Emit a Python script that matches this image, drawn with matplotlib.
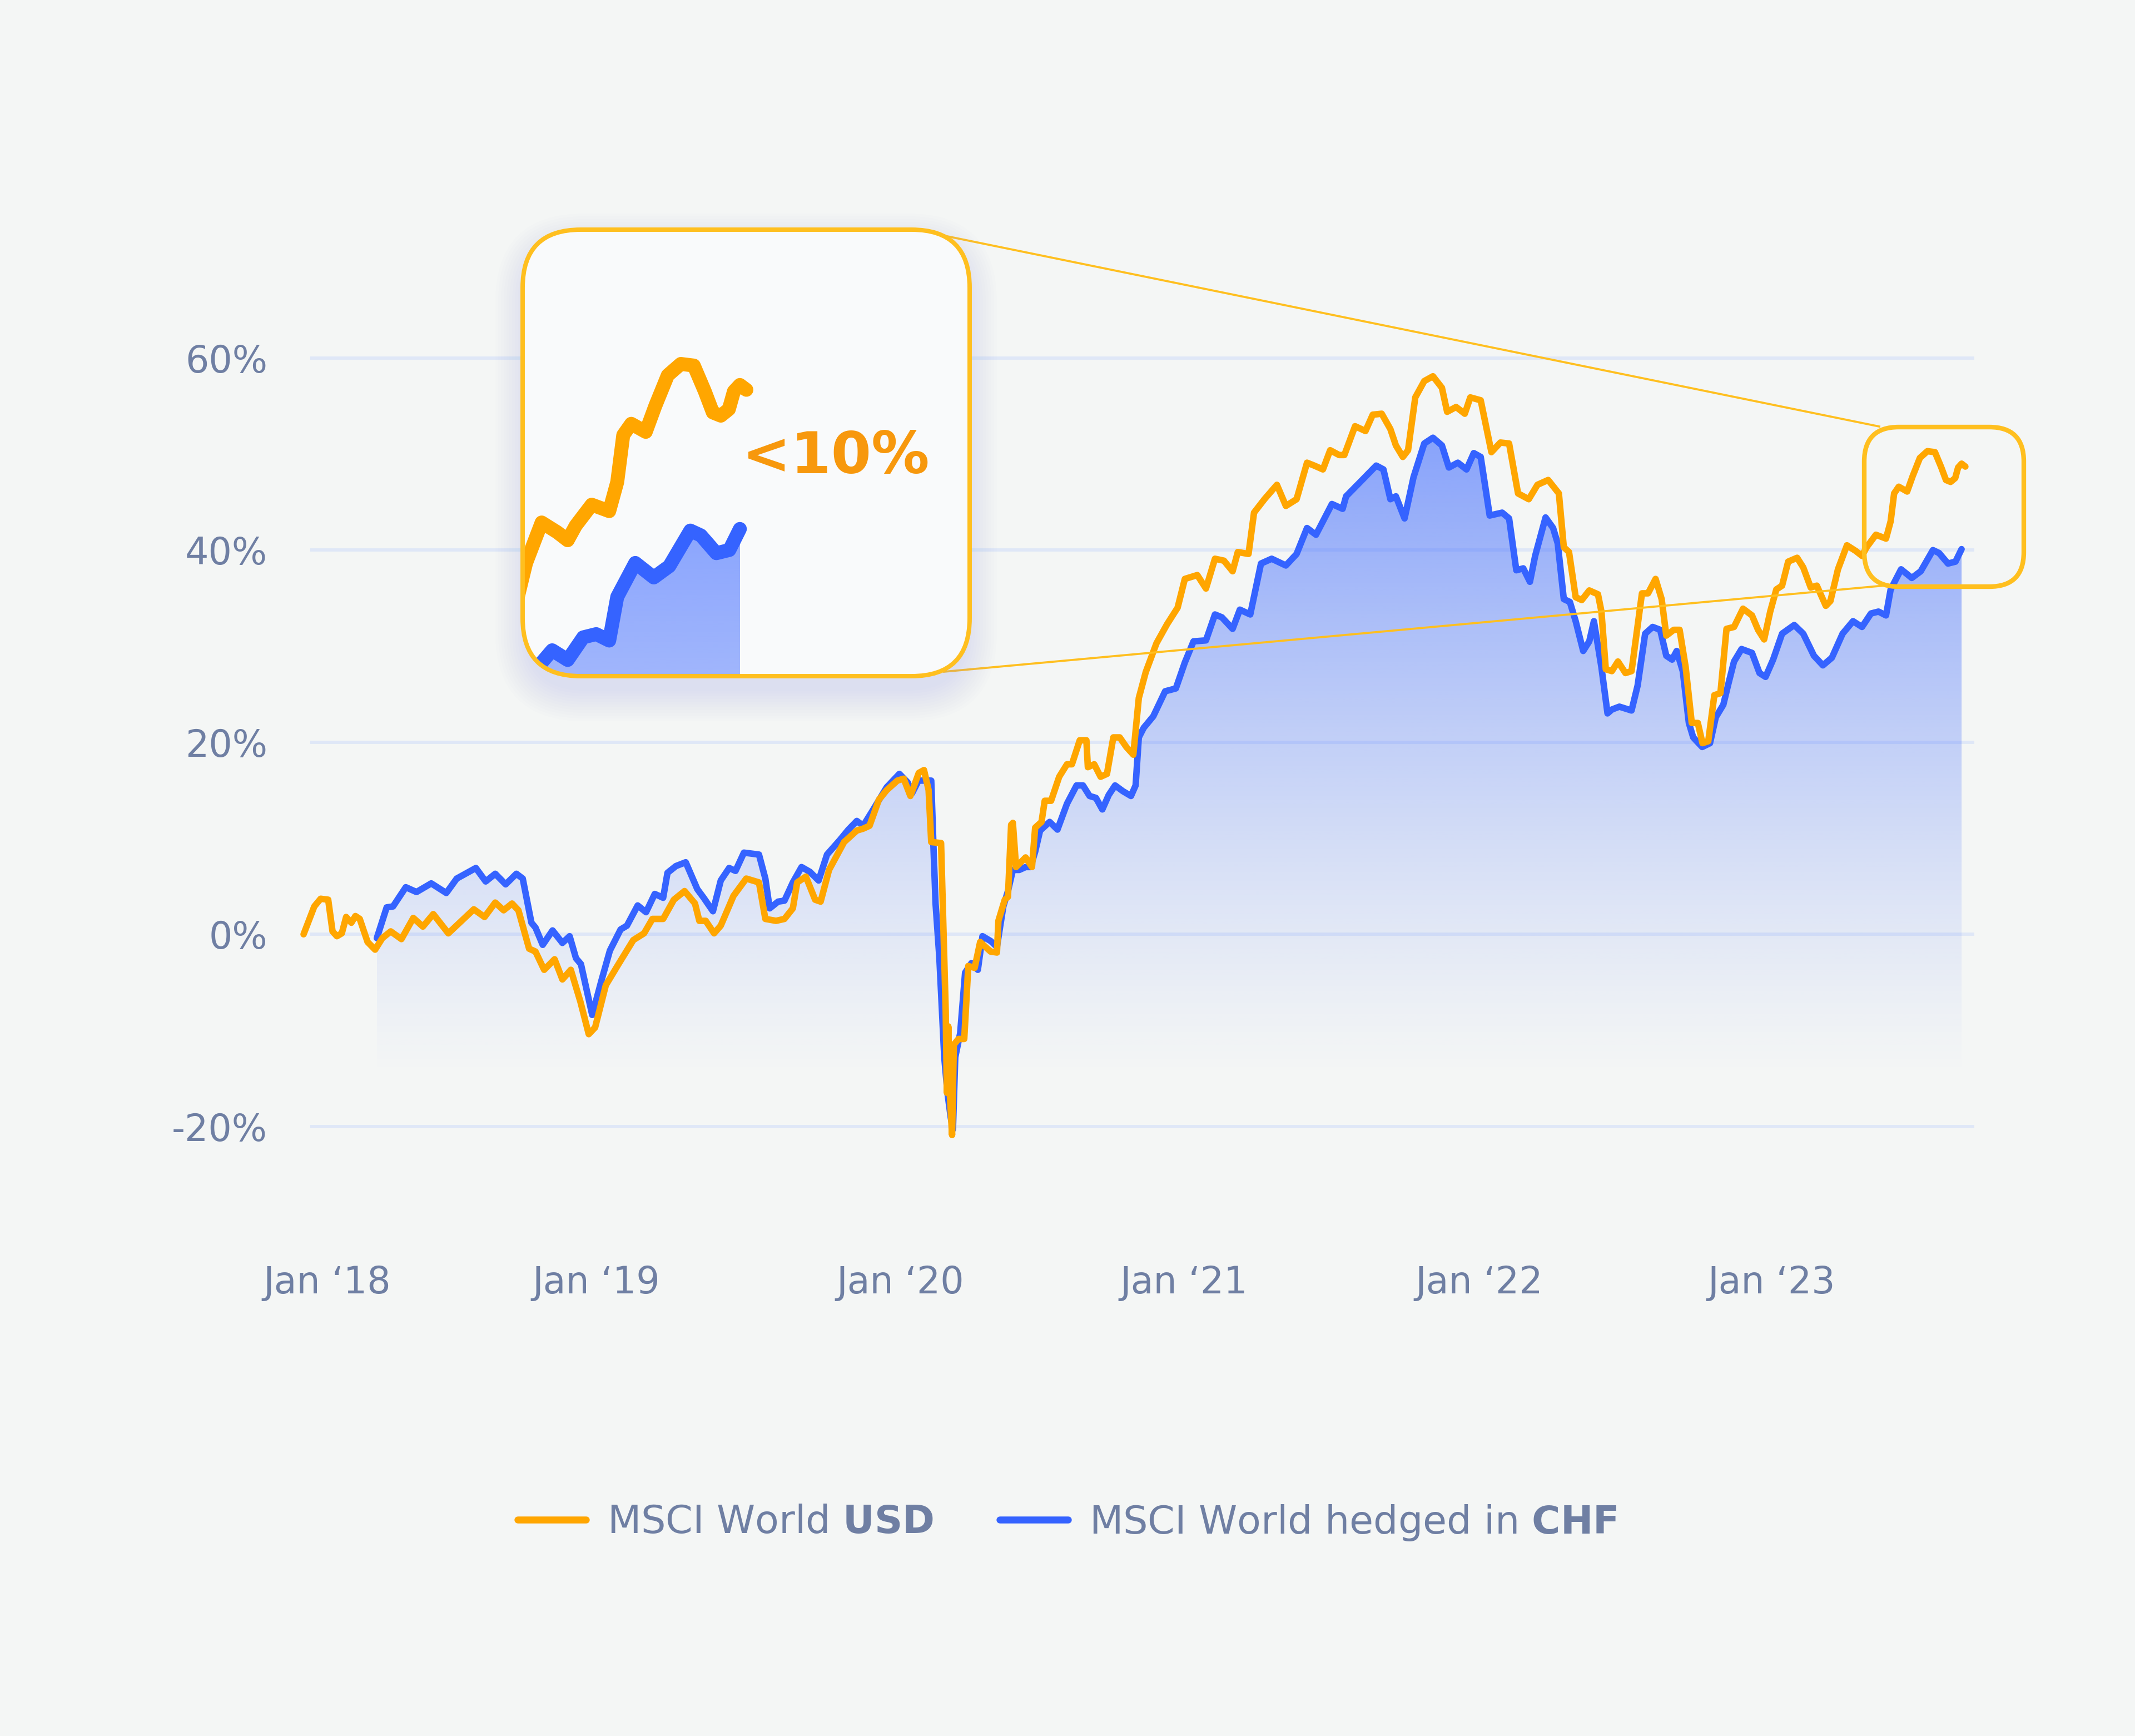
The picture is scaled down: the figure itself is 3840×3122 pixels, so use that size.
import numpy as np
import matplotlib.pyplot as plt
from matplotlib.patches import FancyBboxPatch
from matplotlib.lines import Line2D
from matplotlib.colors import to_rgb
from matplotlib.transforms import IdentityTransform

plt.rcParams['font.family'] = ['DejaVu Sans']
plt.rcParams['mathtext.fontset'] = 'dejavusans'

# --- data (time in fractional years, value in %) ---
usd_t = [2017.919, 2017.956, 2017.978, 2018.004, 2018.019, 2018.034, 2018.051, 2018.066, 2018.084, 2018.098,
         2018.113, 2018.140, 2018.166, 2018.191, 2018.220, 2018.257, 2018.298, 2018.331, 2018.367, 2018.419,
         2018.507, 2018.544, 2018.581, 2018.610, 2018.639, 2018.661, 2018.698, 2018.720, 2018.750, 2018.786,
         2018.813, 2018.842, 2018.875, 2018.904, 2018.926, 2018.963, 2019.007, 2019.058, 2019.095, 2019.124,
         2019.161, 2019.198, 2019.235, 2019.271, 2019.286, 2019.308, 2019.337, 2019.360, 2019.404, 2019.448,
         2019.492, 2019.514, 2019.551, 2019.580, 2019.609, 2019.624, 2019.654, 2019.686, 2019.705, 2019.734,
         2019.786, 2019.830, 2019.852, 2019.874, 2019.906, 2019.933, 2019.970, 2019.992, 2020.015, 2020.044,
         2020.062, 2020.078, 2020.087, 2020.121, 2020.132, 2020.137, 2020.141, 2020.146, 2020.151, 2020.159,
         2020.165, 2020.181, 2020.201, 2020.215, 2020.237, 2020.256, 2020.270, 2020.292, 2020.314, 2020.319,
         2020.341, 2020.352, 2020.363, 2020.369, 2020.380, 2020.413, 2020.435, 2020.446, 2020.468, 2020.479,
         2020.501, 2020.529, 2020.556, 2020.573, 2020.600, 2020.623, 2020.628, 2020.650, 2020.672, 2020.694,
         2020.716, 2020.738, 2020.761, 2020.785, 2020.804, 2020.828, 2020.865, 2020.902, 2020.938, 2020.963,
         2021.006, 2021.036, 2021.067, 2021.098, 2021.128, 2021.146, 2021.183, 2021.202, 2021.238, 2021.281,
         2021.312, 2021.349, 2021.385, 2021.410, 2021.440, 2021.465, 2021.496, 2021.514, 2021.551, 2021.587,
         2021.612, 2021.643, 2021.673, 2021.692, 2021.716, 2021.734, 2021.759, 2021.790, 2021.820, 2021.851,
         2021.869, 2021.900, 2021.930, 2021.949, 2021.985, 2022.022, 2022.053, 2022.083, 2022.114, 2022.151,
         2022.181, 2022.218, 2022.255, 2022.272, 2022.290, 2022.313, 2022.334, 2022.360, 2022.390, 2022.402,
         2022.417, 2022.438, 2022.459, 2022.485, 2022.506, 2022.542, 2022.563, 2022.589, 2022.610, 2022.626,
         2022.652, 2022.672, 2022.693, 2022.714, 2022.735, 2022.751, 2022.771, 2022.792, 2022.813, 2022.834,
         2022.860, 2022.891, 2022.922, 2022.943, 2022.964, 2022.985, 2023.006, 2023.026, 2023.047, 2023.078,
         2023.099, 2023.125, 2023.146, 2023.177, 2023.193, 2023.219, 2023.250, 2023.281, 2023.302, 2023.318,
         2023.350, 2023.385, 2023.401, 2023.413, 2023.429, 2023.458, 2023.477, 2023.502, 2023.528, 2023.554,
         2023.576, 2023.592, 2023.608, 2023.624, 2023.634, 2023.646, 2023.659]
usd_v = [0.0, 2.9, 3.7, 3.6, 0.3, -0.2, 0.1, 1.8, 1.2, 1.9,
         1.6, -0.8, -1.6, -0.4, 0.3, -0.5, 1.7, 0.8, 2.1, 0.1,
         2.6, 1.8, 3.3, 2.5, 3.2, 2.5, -1.5, -1.8, -3.7, -2.6,
         -4.7, -3.7, -7.0, -10.4, -9.7, -5.3, -3.1, -0.6, 0.1, 1.6,
         1.6, 3.6, 4.5, 3.2, 1.4, 1.4, 0.1, 0.9, 4.0, 5.8,
         5.4, 1.6, 1.4, 1.6, 2.7, 5.4, 6.0, 3.6, 3.4, 6.7,
         9.6, 10.8, 11.0, 11.3, 14.0, 15.0, 16.0, 16.2, 14.4, 16.8,
         17.1, 15.0, 9.6, 9.5, -2.4, -8.0, -16.5, -9.6, -16.5, -20.9,
         -11.5, -10.9, -10.9, -3.3, -3.5, -0.8, -1.2, -1.8, -1.9, 1.4,
         3.6, 3.9, 11.4, 11.6, 7.0, 8.0, 7.0, 11.1, 11.7, 13.9,
         13.9, 16.4, 17.7, 17.7, 20.2, 20.2, 17.4, 17.7, 16.4, 16.7,
         20.5, 20.5, 19.5, 18.7, 24.6, 27.3, 30.3, 32.3, 34.0, 37.0,
         37.4, 36.0, 39.1, 38.9, 37.8, 39.8, 39.6, 43.9, 45.3, 46.8,
         44.6, 45.3, 49.1, 48.8, 48.4, 50.4, 49.9, 49.9, 52.9, 52.4,
         54.1, 54.2, 52.6, 50.9, 49.7, 50.4, 55.9, 57.6, 58.1, 56.9,
         54.4, 54.9, 54.2, 55.9, 55.6, 50.2, 51.2, 51.1, 45.9, 45.3,
         46.8, 47.3, 45.9, 40.3, 39.8, 35.1, 34.8, 35.8, 35.4, 33.6,
         27.6, 27.4, 28.4, 27.2, 27.4, 35.5, 35.5, 37.0, 34.9, 31.1,
         31.7, 31.7, 27.8, 22.0, 22.0, 19.9, 20.1, 24.9, 25.1, 31.8,
         32.0, 33.9, 33.2, 31.7, 30.7, 33.6, 35.9, 36.3, 38.8, 39.2,
         38.2, 36.1, 36.3, 34.2, 34.7, 38.0, 40.5, 39.9, 39.4, 40.3,
         41.6, 41.2, 43.0, 45.9, 46.6, 46.1, 47.7, 49.6, 50.3, 50.2,
         48.6, 47.3, 47.1, 47.5, 48.6, 49.0, 48.7]

chf_t = [2018.172, 2018.206, 2018.228, 2018.272, 2018.309, 2018.360, 2018.412, 2018.448, 2018.514, 2018.548,
         2018.581, 2018.617, 2018.654, 2018.676, 2018.706, 2018.720, 2018.745, 2018.779, 2018.813, 2018.838,
         2018.860, 2018.877, 2018.916, 2018.948, 2018.977, 2019.014, 2019.036, 2019.073, 2019.102, 2019.132,
         2019.161, 2019.176, 2019.205, 2019.239, 2019.279, 2019.301, 2019.333, 2019.360, 2019.389, 2019.411,
         2019.440, 2019.492, 2019.514, 2019.529, 2019.558, 2019.580, 2019.609, 2019.639, 2019.668, 2019.698,
         2019.727, 2019.771, 2019.801, 2019.830, 2019.852, 2019.889, 2019.933, 2019.977, 2020.006, 2020.021,
         2020.043, 2020.087, 2020.095, 2020.102, 2020.115, 2020.132, 2020.143, 2020.154, 2020.162, 2020.170,
         2020.187, 2020.204, 2020.226, 2020.248, 2020.264, 2020.292, 2020.314, 2020.336, 2020.352, 2020.369,
         2020.391, 2020.413, 2020.430, 2020.446, 2020.463, 2020.496, 2020.523, 2020.556, 2020.589, 2020.611,
         2020.634, 2020.656, 2020.678, 2020.700, 2020.722, 2020.749, 2020.777, 2020.793, 2020.804, 2020.821,
         2020.854, 2020.895, 2020.932, 2020.963, 2020.993, 2021.036, 2021.067, 2021.091, 2021.128, 2021.153,
         2021.189, 2021.226, 2021.263, 2021.312, 2021.349, 2021.385, 2021.416, 2021.471, 2021.508, 2021.520,
         2021.569, 2021.624, 2021.649, 2021.673, 2021.692, 2021.722, 2021.753, 2021.790, 2021.820, 2021.851,
         2021.875, 2021.906, 2021.936, 2021.961, 2021.985, 2022.016, 2022.059, 2022.083, 2022.108, 2022.132,
         2022.155, 2022.173, 2022.209, 2022.235, 2022.251, 2022.272, 2022.293, 2022.313, 2022.339, 2022.360,
         2022.376, 2022.402, 2022.423, 2022.438, 2022.464, 2022.485, 2022.506, 2022.527, 2022.553, 2022.579,
         2022.605, 2022.626, 2022.646, 2022.662, 2022.683, 2022.704, 2022.719, 2022.750, 2022.777, 2022.797,
         2022.823, 2022.839, 2022.860, 2022.886, 2022.922, 2022.948, 2022.969, 2022.995, 2023.026, 2023.068,
         2023.099, 2023.136, 2023.167, 2023.198, 2023.235, 2023.271, 2023.302, 2023.333, 2023.359, 2023.385,
         2023.401, 2023.437, 2023.474, 2023.505, 2023.547, 2023.568, 2023.599, 2023.625, 2023.646]
chf_v = [-0.4, 2.8, 2.9, 4.9, 4.4, 5.3, 4.3, 5.8, 6.9, 5.5,
         6.3, 5.2, 6.3, 5.8, 1.2, 0.7, -1.1, 0.4, -0.9, -0.2,
         -2.5, -3.1, -8.4, -4.8, -1.7, 0.5, 0.9, 3.0, 2.3, 4.2,
         3.8, 6.4, 7.1, 7.5, 4.7, 3.8, 2.4, 5.6, 6.9, 6.6,
         8.5, 8.3, 5.8, 2.7, 3.4, 3.5, 5.4, 7.0, 6.5, 5.6,
         8.3, 9.8, 10.9, 11.8, 11.3, 13.1, 15.3, 16.7, 15.8, 14.7,
         16.0, 16.0, 8.9, 3.2, -2.4, -12.8, -16.5, -19.0, -20.3, -12.8,
         -10.3, -4.0, -3.0, -3.7, -0.2, -0.7, -1.3, 2.9, 4.5, 6.7,
         6.7, 7.0, 7.0, 8.6, 10.8, 11.7, 10.9, 13.6, 15.5, 15.5,
         14.4, 14.2, 13.0, 14.5, 15.5, 14.9, 14.4, 15.5, 20.5, 21.5,
         22.7, 25.3, 25.6, 28.3, 30.5, 30.6, 33.3, 33.0, 31.8, 33.8,
         33.3, 38.6, 39.1, 38.4, 39.6, 42.3, 41.6, 44.8, 44.3, 45.6,
         47.1, 48.8, 48.4, 45.3, 45.6, 43.3, 47.6, 51.1, 51.7, 50.9,
         48.6, 49.1, 48.4, 50.1, 49.7, 43.6, 43.9, 43.3, 37.9, 38.1,
         36.7, 39.4, 43.4, 42.3, 40.7, 34.9, 34.6, 32.6, 29.5, 30.5,
         32.6, 27.8, 23.0, 23.4, 23.7, 23.5, 23.3, 25.9, 31.3, 32.0,
         31.7, 29.0, 28.6, 29.5, 27.4, 22.0, 20.5, 19.5, 19.9, 22.6,
         23.9, 25.9, 28.4, 29.7, 29.3, 27.2, 26.8, 28.6, 31.3, 32.2,
         31.3, 29.0, 28.0, 28.8, 31.3, 32.6, 32.0, 33.4, 33.6, 33.2,
         35.9, 38.0, 37.1, 37.8, 40.0, 39.7, 38.6, 38.8, 40.1]

x_ticks = [2018.0, 2018.93, 2019.98, 2020.96, 2021.98, 2022.99]
x_labels = ['Jan \u201818', 'Jan \u201819', 'Jan \u201820', 'Jan \u201821', 'Jan \u201822', 'Jan \u201823']
y_ticks = [-20, 0, 20, 40, 60]
y_labels = ['-20%', '0%', '20%', '40%', '60%']
legend_labels = ['MSCI World $\\mathbf{USD}$', 'MSCI World hedged in $\\mathbf{CHF}$']
callout_text = '<10%'

# --- style ---
BG = '#f4f6f5'
INSET_BG = '#f9fafb'
ORANGE = '#ffa600'
BLUE = '#3563ff'
GOLD = '#ffbf1f'
GRID = '#dfe7f7'
TXT = '#6f7fa3'

W, H, DPI = 3840, 3122, 300
PX = IdentityTransform()

fig = plt.figure(figsize=(W / DPI, H / DPI), dpi=DPI, facecolor=BG)


def rect(x0, y0, x1, y1):
    # pixel box (origin top-left) -> figure fraction
    return [x0 / W, 1 - y1 / H, (x1 - x0) / W, (y1 - y0) / H]


def gradient(axis, t, v, top_alpha, lo=-15, hi=55):
    n = 300
    yy = np.linspace(lo, hi, n)
    img = np.zeros((n, 2, 4))
    img[..., :3] = to_rgb(BLUE)
    img[..., 3] = (top_alpha * ((yy - lo) / (hi - lo)) ** 1.2)[:, None]
    return axis.imshow(img, extent=[t[0], t[-1], lo, hi], origin='lower',
                       aspect='auto', interpolation='bilinear', zorder=1)


# ==========================================
# main chart
# ==========================================
ax = fig.add_axes(rect(558, 557.5, 3551, 2112))
ax.set_facecolor('none')
for s in ax.spines.values():
    s.set_visible(False)

poly = ax.fill_between(chf_t, chf_v, -15, facecolor='none', edgecolor='none')
im = gradient(ax, chf_t, chf_v, 0.6)
im.set_clip_path(poly.get_paths()[0], ax.transData)

ax.plot(chf_t, chf_v, color=BLUE, lw=2.8, zorder=3, clip_on=False,
        solid_joinstyle='round', solid_capstyle='round')
ax.plot(usd_t, usd_v, color=ORANGE, lw=2.8, zorder=4, clip_on=False,
        solid_joinstyle='round', solid_capstyle='round')

ax.set_xlim(2017.942, 2023.690)
ax.set_ylim(-25, 65)
ax.set_xticks(x_ticks, x_labels)
ax.set_yticks(y_ticks, y_labels)
ax.tick_params(length=0, labelsize=16, labelcolor=TXT)
ax.tick_params(axis='y', pad=18.5)
ax.tick_params(axis='x', pad=39)
ax.grid(axis='y', color=GRID, lw=1.4)
ax.set_axisbelow(True)

# highlight box around the last months
small = FancyBboxPatch((3353, H - 1055), 3640 - 3353, 1055 - 768,
                       boxstyle='round,pad=0,rounding_size=62', transform=PX,
                       facecolor='none', edgecolor=GOLD, lw=2.0, zorder=4)
fig.add_artist(small)

# connector lines
for (x0, y0), (x1, y1) in [((1704, 425), (3380, 767)), ((1698, 1208), (3390, 1053))]:
    fig.add_artist(Line2D([x0, x1], [H - y0, H - y1], transform=PX,
                          color=GOLD, lw=0.9, zorder=2))

# soft shadow below the zoom panel
for i in range(12):
    g = 5 * i
    sh = FancyBboxPatch((940 - g + 6, H - (1216 + 26 + g)), 804 + 2 * g - 12, 803 + 2 * g,
                        boxstyle=f'round,pad=0,rounding_size={105 + g}', transform=PX,
                        facecolor='#9aaef0', edgecolor='none', alpha=0.018, zorder=2)
    fig.add_artist(sh)

# ==========================================
# zoom panel
# ==========================================
axin = fig.add_axes(rect(940, 413, 1744, 1216), zorder=3)
axin.set_axis_off()
RS = 0.13
box = FancyBboxPatch((0, 0), 1, 1, boxstyle=f'round,pad=0,rounding_size={RS}',
                     transform=axin.transAxes, facecolor=INSET_BG, edgecolor='none', zorder=0)
axin.add_patch(box)

im2 = gradient(axin, chf_t, chf_v, 0.75)
im2.set_clip_path(box)
# cover everything above the hedged line (and to the right of its end)
mask_t = chf_t + [chf_t[-1] + 1.0]
mask_v = chf_v + [chf_v[-1]]
mask = axin.fill_between(mask_t, mask_v, 200, color=INSET_BG, lw=0, zorder=2)
mask.set_clip_path(box)
l1, = axin.plot(chf_t, chf_v, color=BLUE, lw=6, zorder=3,
                solid_joinstyle='round', solid_capstyle='round')
l2, = axin.plot(usd_t, usd_v, color=ORANGE, lw=6, zorder=4,
                solid_joinstyle='round', solid_capstyle='round')
l1.set_clip_path(box)
l2.set_clip_path(box)
axin.set_xlim(2023.212, 2024.105)
axin.set_ylim(31.0, 58.6)

axin.text(0.70, 0.49, callout_text, transform=axin.transAxes, ha='center', va='center',
          fontsize=25, color='#f7980d', fontweight='bold', zorder=5)

border = FancyBboxPatch((0, 0), 1, 1, boxstyle=f'round,pad=0,rounding_size={RS}',
                        transform=axin.transAxes, facecolor='none', edgecolor=GOLD,
                        lw=1.9, zorder=6, clip_on=False)
axin.add_patch(border)

# ==========================================
# legend
# ==========================================
handles = [Line2D([], [], color=ORANGE, lw=3, solid_capstyle='round'),
           Line2D([], [], color=BLUE, lw=3, solid_capstyle='round')]
fig.legend(handles, legend_labels, loc='center', bbox_to_anchor=(0.5, 1 - 2738 / H),
           ncol=2, frameon=False, fontsize=16.8, labelcolor=TXT,
           handlelength=1.75, handletextpad=0.55, columnspacing=1.7)

fig.savefig('out.png', dpi=DPI, facecolor=BG)
